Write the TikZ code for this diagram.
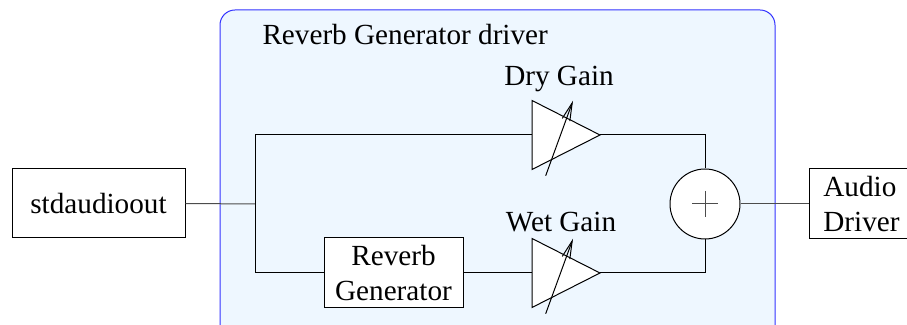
\documentclass[tikz,border=0pt]{standalone}
\usepackage{fontspec}
\setmainfont{Liberation Serif}
\usetikzlibrary{arrows.meta}
\definecolor{drvfill}{RGB}{238,247,255}
\definecolor{drvline}{RGB}{51,51,255}
\tikzset{
  block/.style={draw, fill=white, align=center, inner sep=2pt},
  gray wire/.style={draw=black!70},
}
\begin{document}
\begin{tikzpicture}[x=0.5pt,y=-0.5pt,line width=0.5pt,
    font=\fontsize{14.6}{17.5}\selectfont]
  \clip (0,0) rectangle (907,325);
  % driver frame
  \draw[drvline, fill=drvfill, rounded corners=7.5pt] (220,10) rectangle (775,345);
  \node[anchor=base west, inner sep=0pt] (title) at (262,45) {Reverb Generator driver};
  % blocks
  \node[block, minimum width=86.5pt, minimum height=34.5pt] (std) at (98.5,203.5) {stdaudioout};
  \node[block, minimum width=69.5pt, minimum height=35pt] (rev) at (393.5,273) {Reverb\\Generator};
  \node[block, align=left, anchor=west, minimum width=52pt, minimum height=35pt] (drv) at (809,204) {Audio\\Driver};
  \node[draw, fill=white, circle, minimum size=35pt, inner sep=0pt] (sum) at (705,204) {};
  \draw[black!70] (sum.center) +(-13,0) -- +(13,0) +(0,-13) -- +(0,13);
  % gains
  \foreach \n/\y in {dry/135, wet/273} {
    \draw[fill=white] (532,\y-34.5) -- (600,\y) -- (532,\y+34.5) -- cycle;
    \draw[-{Straight Barb[length=9pt,width=4pt]}] (545.7,\y+40.7) -- (573,\y-34.3);
    \coordinate (in-\n) at (532,\y);
    \coordinate (out-\n) at (600,\y);
  }
  \node[anchor=base] (drylbl) at (559,86) {Dry Gain};
  \node[anchor=base] (wetlbl) at (561,232) {Wet Gain};
  % wires
  \coordinate (split) at (255,204);
  \draw[gray wire] (std.east) -- (split);
  \draw (split) |- (in-dry);
  \draw (split) |- (rev.west);
  \draw (rev.east) -- (in-wet);
  \draw (out-dry) -| (sum.north);
  \draw (out-wet) -| (sum.south);
  \draw[gray wire] (sum.east) -- (drv.west);
\end{tikzpicture}
\end{document}
